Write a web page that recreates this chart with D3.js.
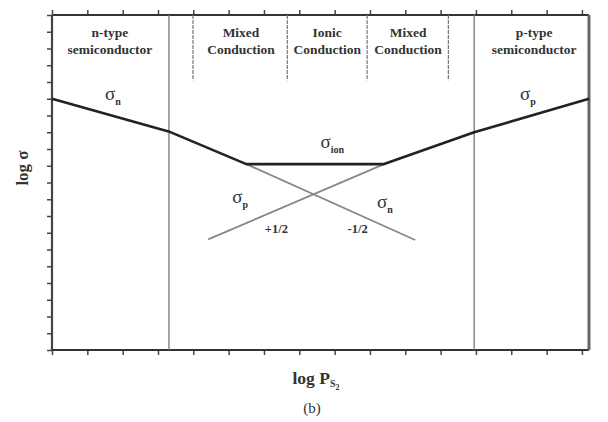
<!DOCTYPE html>
<html>
<head>
	<meta charset="utf-8">
	<title>log sigma vs log P</title>
	<script src="https://d3js.org/d3.v7.min.js"></script>
	<style>
		body { margin: 0; background: #fff; }
		text { font-family: "Liberation Serif", "DejaVu Serif", serif; fill: #333; }
	</style>
</head>
<body>
	<script>
			// data (arbitrary log units)
			var xTicks = d3.range(0, 16);
			var yTicks = d3.range(0, 21);

			var totalX = [0, 3.3, 5.5, 9.4, 11.95, 15.2];
			var totalY = [15.0, 13.05, 11.1, 11.1, 13.0, 15.0];

			var pMinorX = [4.42, 9.4];
			var pMinorY = [6.6, 11.1];
			var nMinorX = [5.5, 10.28];
			var nMinorY = [11.1, 6.57];

			var boundaries = [3.31, 11.95];
			var dividers = [3.99, 6.66, 8.92, 11.22];
			var dividerEnd = 16.1;

			var regionNames = [["n-type", "semiconductor"], ["Mixed", "Conduction"], ["Ionic", "Conduction"], ["Mixed", "Conduction"], ["p-type", "semiconductor"]];
			var regionX = [1.64, 5.35, 7.79, 10.08, 13.65];

			var sigmaLabels = [
				{ sub: "n", x: 1.5, y: 14.95 },
				{ sub: "p", x: 13.25, y: 14.95 },
				{ sub: "ion", x: 7.6, y: 12.05 },
				{ sub: "p", x: 5.1, y: 8.75 },
				{ sub: "n", x: 9.2, y: 8.45 }
			];
			var slopeLabels = [{ t: "+1/2", x: 6.35, y: 7.0 }, { t: "-1/2", x: 8.65, y: 7.0 }];

			var W = 608, H = 422;
			var mLeft = 52, mRight = 589, mTop = 15, mBottom = 350;

			var svg = d3.select("body").append("svg")
							.attr("width", W)
							.attr("height", H);

			var x = d3.scaleLinear().domain([0, 15.2]).range([mLeft, mRight]);
			var y = d3.scaleLinear().domain([0, 20]).range([mBottom, mTop]);

			// axes, ticks only
			function noLabels(ax) { return ax.tickFormat("").tickSizeInner(5).tickSizeOuter(0); }
			var axes = [
				svg.append("g").attr("transform", "translate(0," + mBottom + ")").call(noLabels(d3.axisBottom(x).tickValues(xTicks))),
				svg.append("g").attr("transform", "translate(0," + mTop + ")").call(noLabels(d3.axisTop(x).tickValues(xTicks))),
				svg.append("g").attr("transform", "translate(" + mLeft + ",0)").call(noLabels(d3.axisLeft(y).tickValues(yTicks)))
			];
			axes.forEach(function (g) {
				g.select(".domain").remove();
				g.selectAll("line").attr("stroke", "#444").attr("stroke-width", 1.5);
			});

			// frame
			svg.append("line").attr("x1", mLeft).attr("x2", mRight).attr("y1", mTop).attr("y2", mTop)
				.attr("stroke", "#333").attr("stroke-width", 2.2);
			svg.append("line").attr("x1", mLeft).attr("x2", mRight).attr("y1", mBottom).attr("y2", mBottom)
				.attr("stroke", "#333").attr("stroke-width", 2.2);
			svg.append("line").attr("x1", mLeft).attr("x2", mLeft).attr("y1", mTop).attr("y2", mBottom)
				.attr("stroke", "#444").attr("stroke-width", 2.2);
			svg.append("line").attr("x1", mRight).attr("x2", mRight).attr("y1", mTop).attr("y2", mBottom)
				.attr("stroke", "#666").attr("stroke-width", 3);

			// region boundaries
			svg.selectAll(".bound").data(boundaries).enter().append("line")
				.attr("x1", function (d) { return x(d); }).attr("x2", function (d) { return x(d); })
				.attr("y1", mTop).attr("y2", mBottom)
				.attr("stroke", "#777").attr("stroke-width", 1.3);

			svg.selectAll(".div").data(dividers).enter().append("line")
				.attr("x1", function (d) { return x(d); }).attr("x2", function (d) { return x(d); })
				.attr("y1", mTop).attr("y2", y(dividerEnd))
				.attr("stroke", "#777").attr("stroke-width", 1.2)
				.attr("stroke-dasharray", "4,1");

			// region names
			regionNames.forEach(function (lines, i) {
				var t = svg.append("text")
					.attr("x", x(regionX[i]))
					.attr("y", 37)
					.attr("text-anchor", "middle")
					.attr("font-size", 13.5)
					.style("font-weight", "bold");
				lines.forEach(function (s, k) {
					t.append("tspan").attr("x", x(regionX[i])).attr("dy", k ? 17 : 0).text(s);
				});
			});

			var line = d3.line().x(function (d) { return x(d[0]); }).y(function (d) { return y(d[1]); });

			svg.append("path")
				.attr("d", line(d3.zip(pMinorX, pMinorY)))
				.attr("fill", "none").attr("stroke", "#888").attr("stroke-width", 1.8);
			svg.append("path")
				.attr("d", line(d3.zip(nMinorX, nMinorY)))
				.attr("fill", "none").attr("stroke", "#888").attr("stroke-width", 1.8);

			svg.append("path")
				.attr("d", line(d3.zip(totalX, totalY)))
				.attr("fill", "none").attr("stroke", "#222").attr("stroke-width", 2.6)
				.attr("stroke-linejoin", "round");

			// sigma labels
			sigmaLabels.forEach(function (d) {
				var t = svg.append("text")
					.attr("x", x(d.x)).attr("y", y(d.y))
					.attr("font-size", 19);
				t.append("tspan").text("\u03c3");
				t.append("tspan").attr("font-size", 10).style("font-weight", "bold").attr("dy", 5).text(d.sub);
			});

			svg.selectAll(".slope").data(slopeLabels).enter().append("text")
				.attr("x", function (d) { return x(d.x); })
				.attr("y", function (d) { return y(d.y); })
				.attr("text-anchor", "middle")
				.attr("font-size", 12.5)
				.style("font-weight", "bold")
				.text(function (d) { return d.t; });

			// axis titles
			svg.append("text")
				.attr("transform", "translate(28,168) rotate(-90)")
				.attr("text-anchor", "middle")
				.attr("font-size", 17)
				.style("font-weight", "bold")
				.text("log \u03c3");

			var xt = svg.append("text")
				.attr("x", 316).attr("y", 384)
				.attr("text-anchor", "middle")
				.attr("font-size", 17.5)
				.style("font-weight", "bold");
			xt.append("tspan").text("log P");
			xt.append("tspan").attr("font-size", 10).attr("dy", 3).text("S");
			xt.append("tspan").attr("font-size", 8).attr("dy", 3).text("2");

			svg.append("text")
				.attr("x", 312).attr("y", 413)
				.attr("text-anchor", "middle")
				.attr("font-size", 15)
				.text("(b)");
	</script>
</body>
</html>
